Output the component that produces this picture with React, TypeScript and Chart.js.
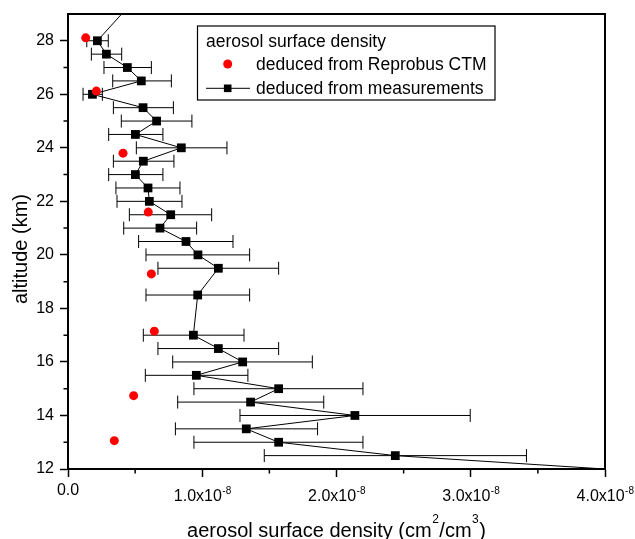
import React, { useEffect, useRef } from 'react';
import { Chart, registerables } from 'chart.js';

Chart.register(...registerables);

const UNIT = 1e-8;
const FONT = '"Liberation Sans", Arial, Helvetica, sans-serif';

// measurements (density in units of 1e-8 cm2/cm3); first and last points lie outside the visible frame
const measAltitude = [29.5, 28, 27.5, 27, 26.5, 26, 25.5, 25, 24.5, 24, 23.5, 23, 22.5, 22, 21.5, 21, 20.5, 20, 19.5, 18.5, 17, 16.5, 16, 15.5, 15, 14.5, 14, 13.5, 13, 12.5, 11.5];
const measDensity = [0.49, 0.219, 0.286, 0.442, 0.546, 0.182, 0.559, 0.66, 0.502, 0.844, 0.561, 0.502, 0.596, 0.606, 0.765, 0.685, 0.879, 0.968, 1.12, 0.966, 0.934, 1.12, 1.301, 0.956, 1.569, 1.36, 2.137, 1.328, 1.569, 2.438, 5.56];
const measErrLow = [null, 0.14, 0.174, 0.268, 0.333, 0.112, 0.338, 0.397, 0.303, 0.509, 0.338, 0.303, 0.357, 0.365, 0.457, 0.415, 0.526, 0.581, 0.67, 0.581, 0.561, 0.67, 0.78, 0.576, 0.938, 0.817, 1.281, 0.8, 0.938, 1.462, null];
const measErrHigh = [null, 0.3, 0.4, 0.621, 0.77, 0.256, 0.785, 0.923, 0.707, 1.184, 0.789, 0.707, 0.834, 0.849, 1.07, 0.958, 1.229, 1.353, 1.569, 1.353, 1.311, 1.569, 1.82, 1.34, 2.197, 1.905, 2.996, 1.859, 2.197, 3.415, null];

// Reprobus CTM
const ctmAltitude = [28.11, 26.12, 23.8, 21.6, 19.29, 17.15, 14.74, 13.06];
const ctmDensity = [0.132, 0.211, 0.41, 0.598, 0.621, 0.643, 0.489, 0.345];

const yTicks = [12, 14, 16, 18, 20, 22, 24, 26, 28];
const yMinorTicks = [13, 15, 17, 19, 21, 23, 25, 27];
const xTicks = [0, 1, 2, 3, 4];
const xMinorTicks = [0.5, 1.5, 2.5, 3.5];
const xTickLabels = ['0.0', '1.0x10', '2.0x10', '3.0x10', '4.0x10'];
const xTickExponents = ['', '-8', '-8', '-8', '-8'];

const yTitle = 'altitude (km)';
const xTitleParts: [string, boolean][] = [
  ['aerosol surface density (cm', false],
  ['2', true],
  ['/cm', false],
  ['3', true],
  [')', false],
];
const legendTitle = 'aerosol surface density';
const ctmLabel = 'deduced from Reprobus CTM';
const measLabel = 'deduced from measurements';

const decorPlugin = {
  id: 'decor',
  beforeDatasetsDraw(chart: any) {
    const { ctx, chartArea: a, scales } = chart;
    const x = scales.x;
    const y = scales.y;
    ctx.save();
    ctx.beginPath();
    ctx.rect(a.left, a.top, a.right - a.left, a.bottom - a.top);
    ctx.clip();
    ctx.strokeStyle = '#000';
    ctx.lineWidth = 1;
    const cap = 6.5;
    for (let i = 0; i < measAltitude.length; i++) {
      const lo = measErrLow[i];
      const hi = measErrHigh[i];
      if (lo == null || hi == null) continue;
      const py = y.getPixelForValue(measAltitude[i]);
      const x1 = x.getPixelForValue(lo * UNIT);
      const x2 = x.getPixelForValue(hi * UNIT);
      ctx.beginPath();
      ctx.moveTo(x1, py);
      ctx.lineTo(x2, py);
      ctx.moveTo(x1, py - cap);
      ctx.lineTo(x1, py + cap);
      ctx.moveTo(x2, py - cap);
      ctx.lineTo(x2, py + cap);
      ctx.stroke();
    }
    ctx.restore();
  },
  afterDraw(chart: any) {
    const { ctx, chartArea: a, scales } = chart;
    const x = scales.x;
    const y = scales.y;
    ctx.save();
    // frame top and right
    ctx.strokeStyle = '#000';
    ctx.lineWidth = 2;
    ctx.beginPath();
    ctx.moveTo(a.left, a.top);
    ctx.lineTo(a.right, a.top);
    ctx.lineTo(a.right, a.bottom);
    ctx.stroke();

    // minor ticks
    ctx.lineWidth = 1.5;
    ctx.beginPath();
    for (const v of yMinorTicks) {
      const py = y.getPixelForValue(v);
      ctx.moveTo(a.left - 4.5, py);
      ctx.lineTo(a.left, py);
    }
    for (const v of xMinorTicks) {
      const px = x.getPixelForValue(v * UNIT);
      ctx.moveTo(px, a.bottom);
      ctx.lineTo(px, a.bottom + 4.5);
    }
    ctx.stroke();

    // x tick labels with superscript exponent
    ctx.fillStyle = '#000';
    ctx.textAlign = 'left';
    ctx.textBaseline = 'alphabetic';
    for (let i = 0; i < xTicks.length; i++) {
      const px = x.getPixelForValue(xTicks[i] * UNIT);
      const main = xTickLabels[i];
      const exp = xTickExponents[i];
      ctx.font = `16px ${FONT}`;
      const w1 = ctx.measureText(main).width;
      ctx.font = `10px ${FONT}`;
      const w2 = exp ? ctx.measureText(exp).width : 0;
      const start = px - (w1 + w2) / 2;
      ctx.font = `16px ${FONT}`;
      ctx.fillText(main, start, exp ? a.bottom + 32 : a.bottom + 26);
      if (exp) {
        ctx.font = `10px ${FONT}`;
        ctx.fillText(exp, start + w1 + 0.5, a.bottom + 24.5);
      }
    }

    // x title
    let total = 0;
    for (const [t, sup] of xTitleParts) {
      ctx.font = `${sup ? 12 : 20}px ${FONT}`;
      total += ctx.measureText(t).width + (sup ? 1 : 0);
    }
    let cx = (a.left + a.right) / 2 - total / 2;
    for (const [t, sup] of xTitleParts) {
      ctx.font = `${sup ? 12 : 20}px ${FONT}`;
      ctx.fillText(t, cx + (sup ? 0.5 : 0), sup ? 523 : 537);
      cx += ctx.measureText(t).width + (sup ? 1 : 0);
    }

    // y title
    ctx.save();
    ctx.translate(26.5, 249);
    ctx.rotate(-Math.PI / 2);
    ctx.font = `20px ${FONT}`;
    ctx.textAlign = 'center';
    ctx.fillText(yTitle, 0, 0);
    ctx.restore();

    // legend
    const bx = 197.5, by = 26, bw = 297.5, bh = 74;
    ctx.fillStyle = '#fff';
    ctx.fillRect(bx, by, bw, bh);
    ctx.strokeStyle = '#000';
    ctx.lineWidth = 1.2;
    ctx.strokeRect(bx, by, bw, bh);
    ctx.fillStyle = '#000';
    ctx.font = `17.5px ${FONT}`;
    ctx.textAlign = 'left';
    ctx.fillText(legendTitle, 206, 46.7);
    ctx.fillText(ctmLabel, 256, 70);
    ctx.fillText(measLabel, 256, 94);
    ctx.fillStyle = '#ff0000';
    ctx.beginPath();
    ctx.arc(227.7, 64, 4.5, 0, Math.PI * 2);
    ctx.fill();
    ctx.strokeStyle = '#000';
    ctx.lineWidth = 1;
    ctx.beginPath();
    ctx.moveTo(206, 88.3);
    ctx.lineTo(250, 88.3);
    ctx.stroke();
    ctx.fillStyle = '#000';
    ctx.fillRect(227.7 - 3.8, 88.3 - 3.8, 7.6, 7.6);
    ctx.restore();
  },
};

export default function App() {
  const canvasRef = useRef<HTMLCanvasElement | null>(null);

  useEffect(() => {
    const canvas = canvasRef.current;
    if (!canvas) return;
    const chart = new Chart(canvas, {
      type: 'scatter',
      data: {
        datasets: [
          {
            label: ctmLabel,
            data: ctmAltitude.map((alt, i) => ({ x: ctmDensity[i] * UNIT, y: alt })),
            pointStyle: 'circle',
            pointRadius: 4.5,
            pointBorderWidth: 0,
            backgroundColor: '#ff0000',
            borderColor: '#ff0000',
            showLine: false,
            clip: 0,
          },
          {
            label: measLabel,
            data: measAltitude.map((alt, i) => ({ x: measDensity[i] * UNIT, y: alt })),
            pointStyle: 'rect',
            pointRadius: 6.2,
            pointBorderWidth: 0,
            backgroundColor: '#000',
            borderColor: '#000',
            borderWidth: 1,
            showLine: true,
            clip: 0,
          },
        ],
      } as any,
      options: {
        animation: false,
        responsive: false,
        devicePixelRatio: 1,
        layout: { padding: { top: 14, right: 30, left: 0, bottom: 0 } },
        plugins: {
          legend: { display: false },
          tooltip: { enabled: false },
        },
        scales: {
          x: {
            type: 'linear',
            min: 0,
            max: 4 * UNIT,
            afterBuildTicks: (s: any) => {
              s.ticks = xTicks.map((v) => ({ value: v * UNIT }));
            },
            afterFit: (s: any) => {
              s.height = 70;
              s.paddingLeft = 0;
              s.paddingRight = 0;
            },
            ticks: { display: false },
            grid: { drawOnChartArea: false, drawTicks: true, tickLength: 8, tickWidth: 1.5, tickColor: '#000' },
            border: { display: true, color: '#000', width: 2 },
          },
          y: {
            type: 'linear',
            min: 12,
            max: 29,
            afterBuildTicks: (s: any) => {
              s.ticks = yTicks.map((v) => ({ value: v }));
            },
            afterFit: (s: any) => {
              s.width = 68;
              s.paddingTop = 0;
              s.paddingBottom = 0;
            },
            ticks: {
              color: '#000',
              font: { family: FONT, size: 16 },
              padding: 6,
              callback: (v: any) => String(v),
            },
            grid: { drawOnChartArea: false, drawTicks: true, tickLength: 8, tickWidth: 1.5, tickColor: '#000' },
            border: { display: true, color: '#000', width: 2 },
          },
        },
      } as any,
      plugins: [decorPlugin],
    });
    return () => chart.destroy();
  }, []);

  return (
    <div style={{ position: 'absolute', left: 0, top: 0, width: 635, height: 539, background: '#fff' }}>
      <canvas ref={canvasRef} width={635} height={539} style={{ display: 'block' }} />
    </div>
  );
}
